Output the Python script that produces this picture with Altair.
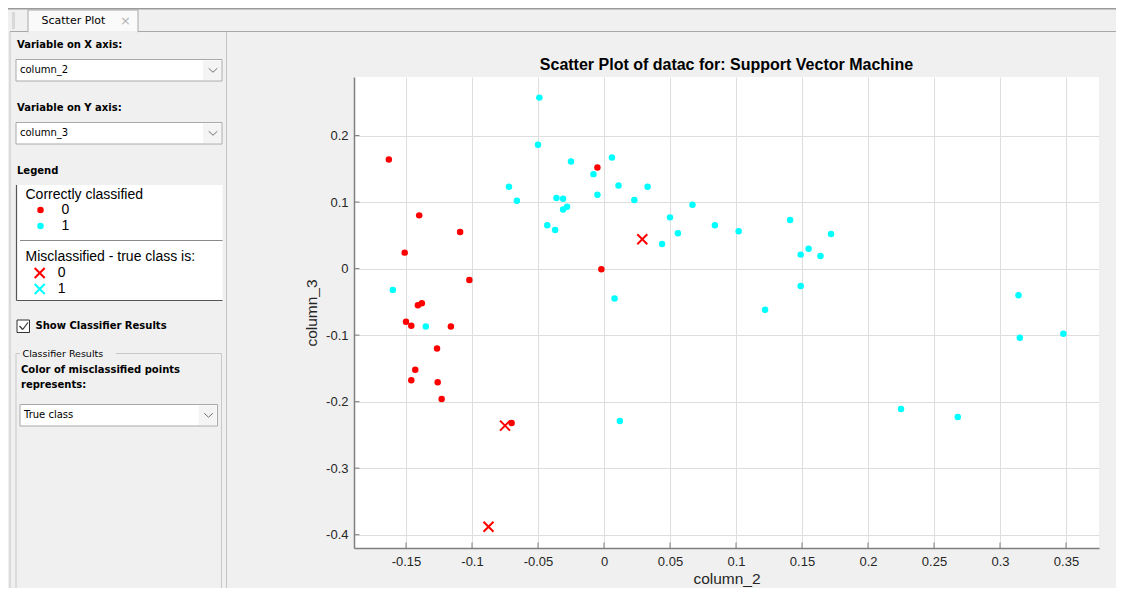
import altair as alt
import pandas as pd

# ---------------- data ----------------
red_x = [-0.163, -0.140, -0.109, -0.151, -0.102, -0.141, -0.138, -0.150, -0.146, -0.116,
         -0.005, -0.002, -0.1265, -0.143, -0.146, -0.126, -0.123, -0.070]
red_y = [0.164, 0.080, 0.055, 0.024, -0.017, -0.055, -0.052, -0.080, -0.086, -0.087,
         0.152, -0.001, -0.120, -0.152, -0.168, -0.171, -0.196, -0.232]

cyan_x = [-0.049, -0.050, -0.025, 0.006, -0.008, -0.072, -0.066, -0.036, -0.031, 0.011,
          0.033, -0.005, 0.023, -0.028, -0.031, -0.043, -0.037, -0.160, 0.008, -0.135,
          0.012, 0.067, 0.050, 0.084, 0.102, 0.056, 0.044, 0.141, 0.172, 0.155,
          0.149, 0.164, 0.149, 0.122, 0.314, 0.315, 0.348, 0.225, 0.268]
cyan_y = [0.257, 0.186, 0.161, 0.167, 0.142, 0.123, 0.102, 0.106, 0.105, 0.125,
          0.123, 0.111, 0.103, 0.093, 0.089, 0.065, 0.058, -0.032, -0.045, -0.087,
          -0.229, 0.096, 0.077, 0.065, 0.056, 0.053, 0.037, 0.073, 0.052, 0.030,
          0.021, 0.019, -0.026, -0.062, -0.040, -0.104, -0.098, -0.211, -0.223]

mis_x = [0.029, -0.075, -0.0875]
mis_y = [0.044, -0.236, -0.388]
mis_true = [0, 0, 0]

classes = ["0", "1"]
true_classes = [0, 1]
class_colors = ["#ff0000", "#00ffff"]

x_ticks = [-0.15, -0.1, -0.05, 0, 0.05, 0.1, 0.15, 0.2, 0.25, 0.3, 0.35]
y_ticks = [-0.4, -0.3, -0.2, -0.1, 0, 0.1, 0.2]

x_domain = [-0.1894, 0.375]
y_domain = [-0.42, 0.288]

title_text = "Scatter Plot of datac for: Support Vector Machine"
x_title = "column_2"
y_title = "column_3"

# ---------------- layout ----------------
PX0, PY0 = 354, 77          # page position of plot area
W, H = 745, 471

correct_df = pd.DataFrame({
    "x": red_x + cyan_x,
    "y": red_y + cyan_y,
    "cls": ["0"] * len(red_x) + ["1"] * len(cyan_x),
})
mis_df = pd.DataFrame({"x": mis_x, "y": mis_y, "mis": mis_true})
xt_df = pd.DataFrame({"x": x_ticks})
yt_df = pd.DataFrame({"y": y_ticks})
one = pd.DataFrame({"k": [0]})

AX = "#7f7f7f"
LBL = "#262626"
fmt = "replace(format(datum.value, '.2~f'), '\u2212', '-')"

xscale = alt.Scale(domain=x_domain, nice=False, zero=False)
yscale = alt.Scale(domain=y_domain, nice=False, zero=False)
xaxis = alt.Axis(values=x_ticks, grid=True, gridColor="#dedede", domainColor=AX, domainWidth=1.5,
                 ticks=False, tickSize=0, labelFont="Liberation Sans", labelFontSize=13,
                 labelColor=LBL, labelPadding=7, labelExpr=fmt, title=x_title,
                 titleFont="Liberation Sans", titleFontSize=15.5, titleFontWeight="normal",
                 titleColor=LBL, titlePadding=3)
yaxis = alt.Axis(values=y_ticks, grid=True, gridColor="#dedede", domainColor=AX, domainWidth=1.5,
                 ticks=False, tickSize=0, labelFont="Liberation Sans", labelFontSize=13,
                 labelColor=LBL, labelPadding=6, labelExpr=fmt, title=y_title,
                 titleFont="Liberation Sans", titleFontSize=15.5, titleFontWeight="normal",
                 titleColor=LBL, titlePadding=6)

X_PATH = "M-1,-1L1,1M-1,1L1,-1"


def px(v):
    return v - PX0


def py(v):
    return v - PY0


def text(s, x, y, size=10, bold=False, font="DejaVu Sans", color="#000000", align="left"):
    return alt.Chart(one).mark_text(
        text=s, align=align, baseline="middle", font=font, fontSize=size,
        fontWeight="bold" if bold else "normal", color=color
    ).encode(x=alt.value(px(x)), y=alt.value(py(y)))


def rect(x1, y1, x2, y2, fill="transparent", stroke="transparent", sw=1):
    return alt.Chart(one).mark_rect(fill=fill, stroke=stroke, strokeWidth=sw).encode(
        x=alt.value(px(x1)), x2=alt.value(px(x2)), y=alt.value(py(y1)), y2=alt.value(py(y2)))


def line(x1, y1, x2, y2, color="#a0a0a0", sw=1):
    return alt.Chart(one).mark_rule(color=color, strokeWidth=sw).encode(
        x=alt.value(px(x1)), x2=alt.value(px(x2)), y=alt.value(py(y1)), y2=alt.value(py(y2)))


def dropdown(x1, y1, x2, y2, label):
    cx = x2 - 9
    cy = (y1 + y2) / 2
    return [
        rect(x1, y1, x2, y2, fill="#ffffff", stroke="#a9a9a9"),
        rect(x2 - 19, y1 + 1, x2 - 1, y2 - 1, fill="#f4f4f4"),
        text(label, x1 + 4, cy, size=10),
        line(cx - 4.3, cy - 2, cx, cy + 2, color="#707070"),
        line(cx, cy + 2, cx + 4.3, cy - 2, color="#707070"),
    ]


gui = []
# tab strip
gui.append(rect(8, 8, 1116, 9.5, fill="#9a9a9a"))
gui.append(line(10, 31.5, 28, 31.5, "#a8a8a8"))
gui.append(line(138, 31.5, 1116, 31.5, "#a8a8a8"))
gui.append(rect(28, 10, 138, 32, fill="#fafafa", stroke="#a8a8a8"))
gui.append(rect(28.5, 31, 137.5, 33, fill="#f0f0f0"))
gui.append(rect(12, 12, 15, 29, fill="#d8d8d8"))
gui.append(text("Scatter Plot", 41.5, 20.7, size=11))
gui.append(text("\u00d7", 125.5, 20.5, size=13, color="#b4b4b4", align="center"))
# panel border
gui.append(line(10, 32, 10, 596, "#c4c4c4"))
gui.append(line(226.5, 32, 226.5, 596, "#c4c4c4"))
# axis choosers
gui.append(text("Variable on X axis:", 17, 45, size=10, bold=True))
gui += dropdown(16, 59.5, 222, 81, "column_2")
gui.append(text("Variable on Y axis:", 17, 107.5, size=10, bold=True))
gui += dropdown(16, 122.5, 222, 144, "column_3")
# legend box
gui.append(text("Legend", 17, 170.5, size=10, bold=True))
gui.append(rect(16.5, 185, 222.5, 300, fill="#ffffff"))
gui.append(line(16.5, 185, 16.5, 300.5, "#555555", 1.2))
gui.append(line(16.5, 300.5, 222.5, 300.5, "#555555", 1.2))
gui.append(line(20, 240.5, 222.5, 240.5, "#8a8a8a"))
# checkbox
gui.append(rect(17, 320, 29.5, 332.5, fill="#ffffff", stroke="#333333"))
gui.append(line(19.5, 326, 22.7, 329.5, "#333333", 1.2))
gui.append(line(22.7, 329.5, 28, 322.5, "#333333", 1.2))
gui.append(text("Show Classifier Results", 35.5, 326, size=10, bold=True))
# group box
gui.append(rect(16, 353.5, 221.5, 600, stroke="#c8c8c8"))
gui.append(rect(20, 348, 116, 359, fill="#f0f0f0"))
gui.append(text("Classifier Results", 22.5, 353.5, size=9.5))
gui.append(text("Color of misclassified points", 21, 370, size=10, bold=True))
gui.append(text("represents:", 21, 384.5, size=10, bold=True))
gui += dropdown(20, 404.5, 217.5, 426, "True class")
# chart title (as a text mark so it sits above the plot, not above the side panel)
gui.append(text(title_text, (PX0 + PX0 + W) / 2, 65, size=16, bold=True,
                font="Liberation Sans", align="center"))

# ---------------- plot layers ----------------
xt_layer = alt.Chart(xt_df).mark_rule(color=AX, strokeWidth=1).encode(
    x=alt.X("x:Q", scale=xscale, axis=xaxis), y=alt.value(H), y2=alt.value(H - 5.5))
yt_layer = alt.Chart(yt_df).mark_rule(color=AX, strokeWidth=1).encode(
    y=alt.Y("y:Q", scale=yscale, axis=yaxis), x=alt.value(0), x2=alt.value(5.5))

dots = alt.Chart(correct_df).mark_point(shape="circle", filled=True, size=42, opacity=1,
                                        strokeWidth=0).encode(
    x=alt.X("x:Q", scale=xscale, axis=xaxis),
    y=alt.Y("y:Q", scale=yscale, axis=yaxis),
    fill=alt.Fill("cls:N", scale=alt.Scale(domain=classes, range=class_colors),
                  legend=alt.Legend(
                      title="Correctly classified", orient="none",
                      legendX=25.5 - PX0, legendY=188 - PY0,
                      direction="vertical", padding=0,
                      titleFont="Liberation Sans", titleFontSize=14, titleFontWeight="normal",
                      titleColor="#000000", titlePadding=1, titleLimit=400,
                      labelFont="Liberation Sans", labelFontSize=14, labelColor="#000000",
                      symbolType="circle", symbolSize=42, symbolStrokeWidth=0,
                      symbolOffset=8, labelOffset=14, rowPadding=2)),
)

crosses = alt.Chart(mis_df).mark_point(shape=X_PATH, filled=False, size=100, opacity=1,
                                       strokeWidth=2).encode(
    x=alt.X("x:Q", scale=xscale, axis=xaxis),
    y=alt.Y("y:Q", scale=yscale, axis=yaxis),
    stroke=alt.Stroke("mis:O", scale=alt.Scale(domain=true_classes, range=class_colors),
                      legend=alt.Legend(
                          title="Misclassified - true class is:", orient="none",
                          legendX=25.5 - PX0, legendY=250 - PY0,
                          direction="vertical", padding=0,
                          titleFont="Liberation Sans", titleFontSize=14,
                          titleFontWeight="normal", titleColor="#000000", titlePadding=2,
                          titleLimit=400,
                          labelFont="Liberation Sans", labelFontSize=14,
                          labelColor="#000000",
                          symbolType=X_PATH, symbolSize=100, symbolStrokeWidth=2,
                          symbolFillColor="transparent",
                          symbolOffset=7.2, labelOffset=11, rowPadding=-2.5)),
)

chart = alt.layer(*gui, xt_layer, yt_layer, dots, crosses).properties(
    width=W, height=H,
    autosize=alt.AutoSizeParams(type="none"),
    padding={"left": PX0 - 8, "top": PY0 - 8, "right": 1116 - (PX0 + W), "bottom": 588 - (PY0 + H)},
    background="#f0f0f0",
).configure_view(fill="#ffffff", stroke=None)

chart.save("out.html", embed_options={"renderer": "svg", "actions": False})
